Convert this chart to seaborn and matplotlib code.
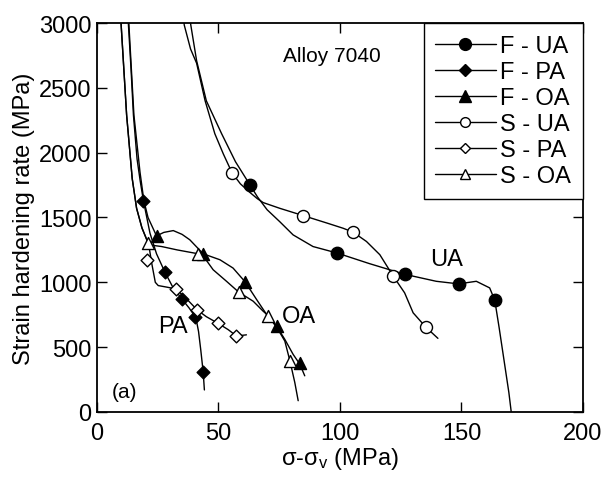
import matplotlib
matplotlib.use("Agg")
import matplotlib.pyplot as plt
from matplotlib.lines import Line2D
import seaborn as sns
import pandas as pd

# ---------------- data ----------------
series_names = ["F - UA", "F - PA", "F - OA", "S - UA", "S - PA", "S - OA"]

# continuous curves
f_ua_line_x = [38.0, 38.6, 41.0, 45.0, 51.3, 57.0, 63.0, 66.0, 70.0, 75.2, 80.7, 88.9, 98.8, 112.0,
               126.6, 139.6, 148.8, 156.1, 161.6, 163.7, 165.5, 167.5, 169.5, 170.8]
f_ua_line_y = [3100, 2985, 2709, 2400, 2146, 1930, 1750, 1660, 1560, 1468, 1366, 1276, 1226, 1145,
               1062, 1008, 988, 1008, 957, 862, 650, 400, 150, -50]

s_ua_line_x = [35.5, 35.9, 38.5, 41.0, 44.5, 48.5, 52.0, 55.6, 59.0, 62.5, 66.0, 68.4, 75.2, 84.8,
               95.0, 101.3, 105.4, 110.9, 116.4, 121.8, 126.6, 130.1, 135.3, 140.3]
s_ua_line_y = [3100, 2985, 2800, 2690, 2400, 2146, 1990, 1844, 1760, 1700, 1645, 1615, 1571, 1515,
               1455, 1417, 1387, 1315, 1213, 1051, 919, 765, 655, 568]

f_pa_line_x = [12.5, 12.9, 14.0, 15.0, 16.5, 17.8, 19.1, 20.5, 21.8, 24.5, 28.0, 31.0, 34.8, 38.0,
               40.7, 41.8, 42.7, 43.7, 44.2]
f_pa_line_y = [3100, 3000, 2650, 2290, 1950, 1780, 1630, 1500, 1380, 1220, 1077, 970, 875, 800,
               727, 620, 480, 309, 170]

f_oa_line_x = [12.7, 13.1, 15.2, 17.7, 19.3, 21.0, 24.5, 27.5, 31.4, 35.0, 38.2, 43.7, 50.6, 56.0,
               60.9, 65.7, 69.8, 73.9, 77.3, 80.7, 83.5, 85.5]
f_oa_line_y = [3100, 3000, 2290, 1850, 1630, 1500, 1358, 1385, 1399, 1370, 1328, 1220, 1174, 1110,
               1005, 867, 752, 662, 560, 445, 368, 279]

s_oa_line_x = [9.5, 9.9, 12.2, 14.5, 16.3, 18.5, 21.1, 23.0, 26.6, 33.0, 41.7, 45.0, 47.8, 53.3,
               58.3, 64.3, 68.4, 70.4, 74.5, 77.3, 79.4, 81.4, 82.8]
s_oa_line_y = [3100, 3000, 2290, 1800, 1571, 1420, 1302, 1285, 1276, 1250, 1220, 1170, 1097, 1008,
               925, 854, 777, 744, 637, 547, 394, 228, 87]

s_pa_line_x = [9.5, 9.9, 12.2, 14.5, 16.3, 18.5, 21.3, 22.5, 24.0, 25.2, 29.0, 32.5, 37.0, 41.2,
               45.0, 49.9, 54.0, 57.4, 61.5]
s_pa_line_y = [3100, 3000, 2290, 1800, 1571, 1420, 1290, 1150, 1000, 975, 962, 949, 870, 788,
               735, 683, 635, 586, 595]

# markers
f_ua_x = [63.0, 98.8, 126.6, 148.8, 163.7]
f_ua_y = [1750, 1226, 1062, 988, 862]
s_ua_x = [55.6, 84.8, 105.4, 121.8, 135.3]
s_ua_y = [1844, 1515, 1387, 1051, 655]
f_pa_x = [19.1, 28.0, 34.8, 40.5, 43.7]
f_pa_y = [1630, 1080, 875, 730, 309]
s_pa_x = [20.4, 32.5, 41.2, 49.9, 57.4]
s_pa_y = [1174, 949, 788, 683, 586]
f_oa_x = [24.5, 43.7, 60.9, 73.9, 83.5]
f_oa_y = [1358, 1220, 1005, 662, 375]
s_oa_x = [21.1, 41.7, 58.3, 70.4, 79.4]
s_oa_y = [1302, 1220, 925, 744, 394]

x_ticks = [0, 50, 100, 150, 200]
y_ticks = [0, 500, 1000, 1500, 2000, 2500, 3000]

# ---------------- styling ----------------
sns.set_theme(style="ticks")
plt.rcParams["font.family"] = ["Liberation Sans", "DejaVu Sans"]
plt.rcParams["mathtext.fontset"] = "custom"
plt.rcParams["mathtext.rm"] = "Liberation Sans"
plt.rcParams["mathtext.it"] = "Liberation Sans"
plt.rcParams["text.color"] = "black"
plt.rcParams["axes.labelcolor"] = "black"
plt.rcParams["xtick.color"] = "black"
plt.rcParams["ytick.color"] = "black"

fig = plt.figure(figsize=(6.05, 4.81), dpi=100)
ax = fig.add_axes([0.1603, 0.1414, 0.8033, 0.8087])

lines = {
    "F - UA": (f_ua_line_x, f_ua_line_y),
    "F - PA": (f_pa_line_x, f_pa_line_y),
    "F - OA": (f_oa_line_x, f_oa_line_y),
    "S - UA": (s_ua_line_x, s_ua_line_y),
    "S - PA": (s_pa_line_x, s_pa_line_y),
    "S - OA": (s_oa_line_x, s_oa_line_y),
}
marks = {
    "F - UA": (f_ua_x, f_ua_y, "o", "black", 80),
    "F - PA": (f_pa_x, f_pa_y, "D", "black", 42),
    "F - OA": (f_oa_x, f_oa_y, "^", "black", 75),
    "S - UA": (s_ua_x, s_ua_y, "o", "white", 75),
    "S - PA": (s_pa_x, s_pa_y, "D", "white", 42),
    "S - OA": (s_oa_x, s_oa_y, "^", "white", 75),
}

for name in series_names:
    lx, ly = lines[name]
    df = pd.DataFrame({"x": lx, "y": ly})
    sns.lineplot(data=df, x="x", y="y", sort=False, estimator=None, color="black",
                 lw=1.0, ax=ax, legend=False)

for name in series_names:
    mx, my, mk, fc, s = marks[name]
    df = pd.DataFrame({"x": mx, "y": my})
    sns.scatterplot(data=df, x="x", y="y", marker=mk, s=s, facecolor=fc,
                    edgecolor="black", linewidth=1.0, ax=ax, legend=False, zorder=3)

ax.set_xlim(0, 200)
ax.set_ylim(0, 3000)
ax.set_xticks(x_ticks)
ax.set_yticks(y_ticks)
ax.tick_params(direction="in", length=7, width=1.0, top=True, right=True,
               labelsize=17, pad=4, colors="black")
ax.tick_params(axis="x", pad=7)
for sp in ax.spines.values():
    sp.set_linewidth(1.3)
    sp.set_color("black")

ax.set_xlabel("σ-σ$_\\mathregular{v}$ (MPa)", fontsize=17, labelpad=1, color="black")
ax.set_ylabel("Strain hardening rate (MPa)", fontsize=17, labelpad=3, color="black")

ax.text(76.5, 2747, "Alloy 7040", fontsize=15, ha="left", va="center")
ax.text(31.4, 662, "PA", fontsize=17, ha="center", va="center")
ax.text(83.2, 739, "OA", fontsize=17, ha="center", va="center")
ax.text(143.8, 1180, "UA", fontsize=17, ha="center", va="center")
ax.text(6.2, 160, "(a)", fontsize=15, ha="left", va="center")

handles = []
for name in series_names:
    mx, my, mk, fc, s = marks[name]
    ms = 8.5 if mk != "D" else 6.5
    if fc == "white":
        ms -= 1.5
    handles.append(Line2D([], [], color="black", lw=1.0, marker=mk, markersize=ms,
                          markerfacecolor=fc, markeredgecolor="black"))
leg = ax.legend(handles, series_names, loc="upper right", fontsize=17, frameon=True,
                fancybox=False, edgecolor="black", framealpha=1, borderaxespad=0,
                handlelength=2.55, handletextpad=0.2, labelspacing=0.17, borderpad=0.5)
leg.get_frame().set_linewidth(1.0)
for t in leg.get_texts():
    t.set_color("black")

fig.savefig("out.png", dpi=100)
